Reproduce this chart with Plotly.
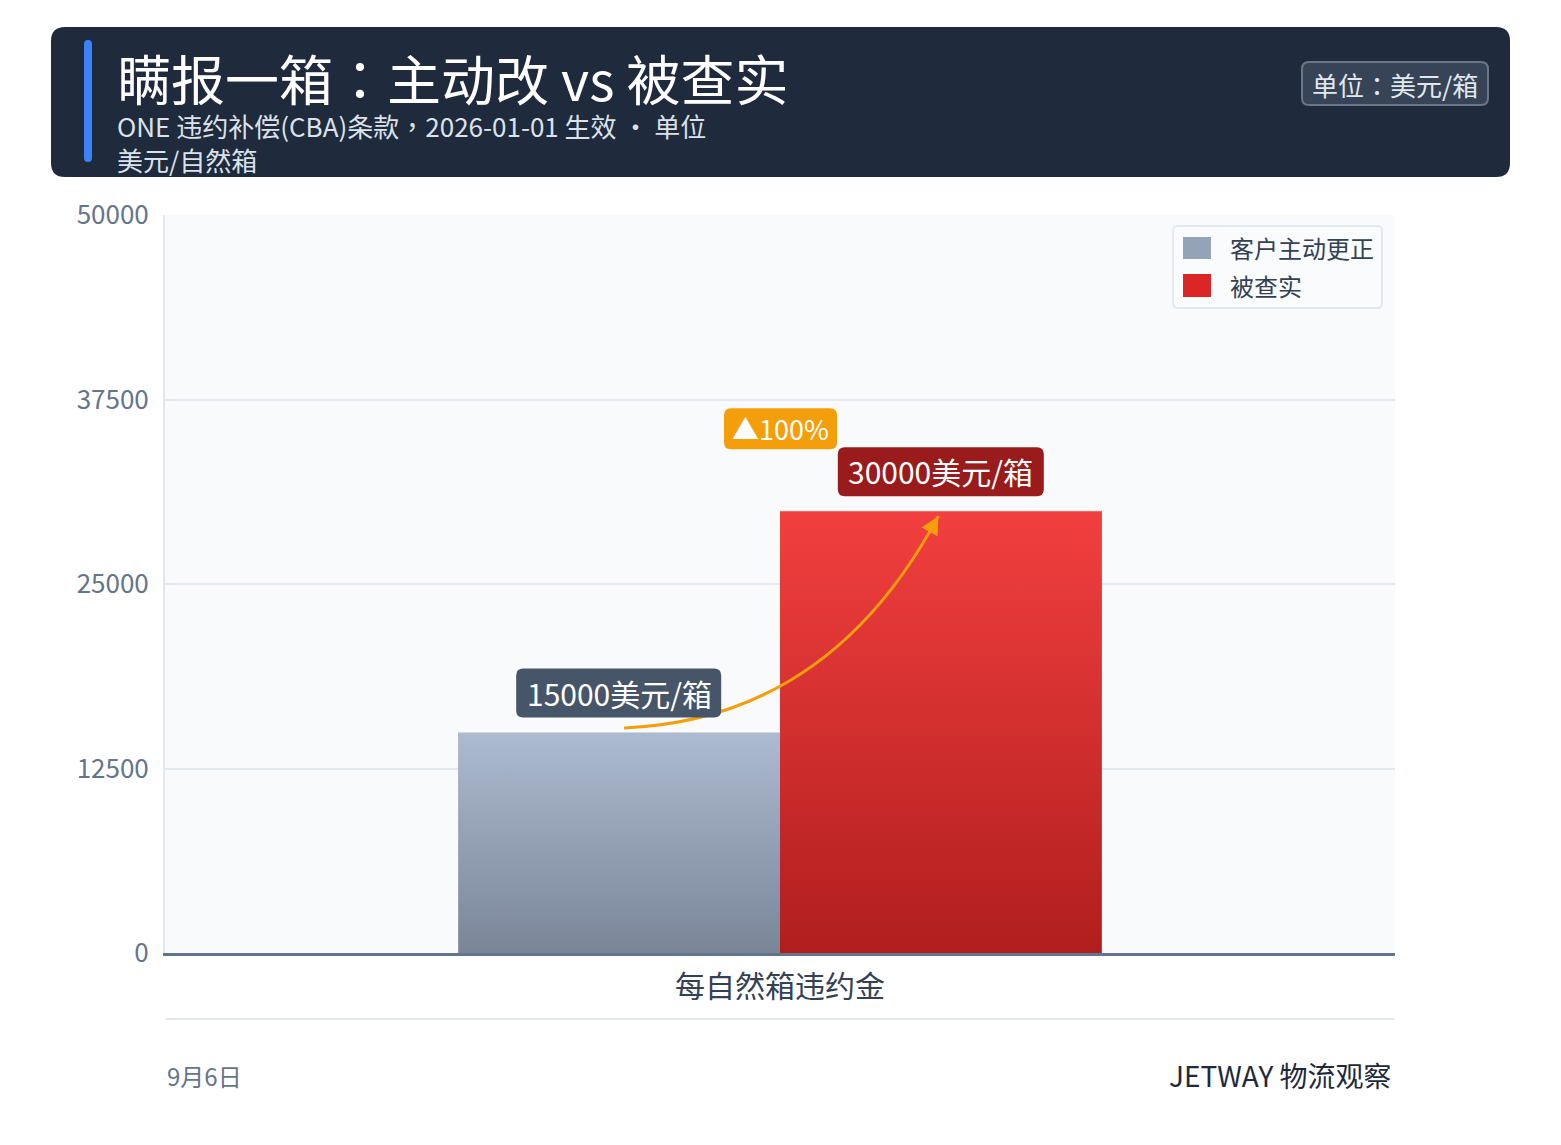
import plotly.graph_objects as go

# ---------------- data ----------------
categories = ["每自然箱违约金"]
series_names = ["客户主动更正", "被查实"]
values_self = [15000]
values_caught = [30000]
value_labels = ["15000美元/箱", "30000美元/箱"]
change_label = "▲100%"
y_ticks = [0, 12500, 25000, 37500, 50000]

title_text = "瞒报一箱：主动改 vs 被查实"
subtitle_text = "ONE 违约补偿(CBA)条款，2026-01-01 生效 · 单位<br>美元/自然箱"
unit_badge = "单位：美元/箱"
footer_left = "9月6日"
footer_right = "JETWAY 物流观察"

# ---------------- style ----------------
W, H = 1561, 1145
OFF = 8                      # page offset of the figure
PL, PR, PT, PB = 165, 1395, 215, 953   # plot box in page pixels
PW, PH = PR - PL, PB - PT
BARGAP = 0.477
FONT = "Noto Sans CJK TC, Noto Sans CJK SC, sans-serif"
legend_colors = ["#94a3b8", "#dc2626"]
grad_colors = [("#7a8598", "#adbbd0"), ("#b11e1e", "#f23f3f")]
label_bg = ["#475569", "#991b1b"]


def px_x(p):
    return (p - PL) / PW


def px_y(q):
    return (PB - q) / PH


def rpath(x0, x1, y0, y1, rx, ry):
    return (f"M {x0 + rx},{y0} L {x1 - rx},{y0} Q {x1},{y0} {x1},{y0 + ry} "
            f"L {x1},{y1 - ry} Q {x1},{y1} {x1 - rx},{y1} "
            f"L {x0 + rx},{y1} Q {x0},{y1} {x0},{y1 - ry} "
            f"L {x0},{y0 + ry} Q {x0},{y0} {x0 + rx},{y0} Z")


def paper_rrect(x0, x1, top, bottom, r, **kw):
    return dict(type="path", xref="paper", yref="paper",
                path=rpath(px_x(x0), px_x(x1), px_y(bottom), px_y(top),
                           r / PW, r / PH), **kw)


fig = go.Figure()
series_vals = [values_self, values_caught]
for name, vals, col in zip(series_names, series_vals, legend_colors):
    fig.add_trace(go.Bar(
        x=categories, y=vals, name=name,
        marker=dict(color=col, line=dict(width=0)),
        hoverinfo="skip", showlegend=False,
    ))

# gradient overlays on a linear twin axis
group_w = 1 - BARGAP
bw = group_w / len(series_vals)
centers = []
for i, (vals, (cb, ct)) in enumerate(zip(series_vals, grad_colors)):
    x0 = -group_w / 2 + i * bw
    v = vals[0]
    centers.append(x0 + bw / 2)
    fig.add_trace(go.Scatter(
        x=[x0, x0 + bw, x0 + bw, x0, x0], y=[0, 0, v, v, 0],
        xaxis="x2", yaxis="y", mode="lines", fill="toself",
        line=dict(width=0, color=ct),
        fillgradient=dict(type="vertical", colorscale=[[0, cb], [1, ct]]),
        showlegend=False, hoverinfo="skip",
    ))
    fig.add_trace(go.Scatter(
        x=[x0, x0 + bw], y=[v, v], xaxis="x2", yaxis="y", mode="lines",
        line=dict(width=2, color="rgba(255,255,255,0.9)"),
        showlegend=False, hoverinfo="skip",
    ))

# curved arrow from first bar to second
v0, v1 = values_self[0], values_caught[0]
sx, sy = centers[0] + 0.004, v0 + 250
ex, ey = centers[1] - 0.002, v1 - 400
cx, cy = 0.04, v0 + 800
shapes = [
    dict(type="path", xref="x2", yref="y",
         path=f"M {sx},{sy} Q {cx},{cy} {ex},{ey}",
         line=dict(color="#f59e0b", width=3)),
]
annotations = [
    dict(x=ex, y=ey, xref="x2", yref="y", text="", showarrow=True,
         ax=-5, ay=9, arrowhead=2, arrowsize=1.2, arrowwidth=3,
         arrowcolor="#f59e0b"),
]

# header / badge / separators
shapes += [
    paper_rrect(51, 1510, 27, 177, 14, fillcolor="#1f2a3c",
                line=dict(width=0), layer="below"),
    paper_rrect(84, 92, 40, 162, 4, fillcolor="#3b82f6", line=dict(width=0)),
    paper_rrect(1302, 1488, 62, 105, 7, fillcolor="#374356",
                line=dict(color="#6b7788", width=2)),
    dict(type="line", xref="paper", yref="paper",
         x0=0, x1=1, y0=px_y(1019), y1=px_y(1019),
         line=dict(color="#e2e8f0", width=2)),
]

# value label boxes (rounded, pixel-sized around data anchors)
box_specs = [
    (centers[0], v0, -103, 102, 14, 63, label_bg[0]),
    (centers[1], v1, -103, 103, 14, 63, label_bg[1]),
    (0, v1, -56, 57, 61, 102, "#f59e0b"),
]
for ax_x, ax_y, bx0, bx1, by0, by1, col in box_specs:
    shapes.append(dict(type="path", xref="x2", yref="y",
                       xsizemode="pixel", ysizemode="pixel",
                       xanchor=ax_x, yanchor=ax_y,
                       path=rpath(bx0, bx1, by0, by1, 7, 7),
                       fillcolor=col, line=dict(width=0)))

annotations += [
    dict(x=px_x(115), y=px_y(77), xref="paper", yref="paper", text=title_text,
         showarrow=False, xanchor="left", yanchor="middle",
         font=dict(family=FONT, size=54, color="white")),
    dict(x=px_x(115), y=px_y(143), xref="paper", yref="paper", text=subtitle_text,
         showarrow=False, xanchor="left", yanchor="middle", align="left",
         font=dict(family=FONT, size=26, color="#dbe2ea")),
    dict(x=px_x(1395), y=px_y(84), xref="paper", yref="paper", text=unit_badge,
         showarrow=False, xanchor="center", yanchor="middle",
         font=dict(family=FONT, size=26, color="#e2e8f0")),
    dict(x=px_x(165), y=px_y(1075), xref="paper", yref="paper", text=footer_left,
         showarrow=False, xanchor="left", yanchor="middle",
         font=dict(family=FONT, size=24, color="#64748b")),
    dict(x=px_x(1394), y=px_y(1075), xref="paper", yref="paper", text=footer_right,
         showarrow=False, xanchor="right", yanchor="middle",
         font=dict(family=FONT, size=28, color="#1e293b")),
]

# value labels text
for c, v, lab in zip(centers, [v0, v1], value_labels):
    annotations.append(dict(
        x=c, y=v, xref="x2", yref="y", text=lab, showarrow=False,
        yanchor="middle", yshift=39,
        font=dict(family=FONT, size=30, color="white")))
annotations.append(dict(
    x=0, y=v1, xref="x2", yref="y", text=change_label, showarrow=False,
    yanchor="middle", yshift=82,
    font=dict(family=FONT, size=27, color="white")))

# manual legend
shapes.append(paper_rrect(1173, 1382, 226, 308, 5, fillcolor="#fafbfc",
                          line=dict(color="#e2e8f0", width=2)))
for name, col, (t, b) in zip(series_names, legend_colors, [(237, 259), (274, 297)]):
    shapes.append(dict(type="rect", xref="paper", yref="paper",
                       x0=px_x(1183), x1=px_x(1211), y0=px_y(b), y1=px_y(t),
                       fillcolor=col, line=dict(width=0)))
    annotations.append(dict(x=px_x(1228), y=px_y((t + b) / 2), xref="paper",
                            yref="paper", text=name, showarrow=False,
                            xanchor="left", yanchor="middle",
                            font=dict(family=FONT, size=24, color="#334155")))

fig.update_layout(
    width=W, height=H,
    margin=dict(l=PL - OFF, r=W - (PR - OFF), t=PT - OFF, b=H - (PB - OFF)),
    paper_bgcolor="white", plot_bgcolor="#f8fafc",
    barmode="group", bargap=BARGAP, bargroupgap=0,
    font=dict(family=FONT),
    xaxis=dict(type="category", range=[-0.5, 0.5], showgrid=False,
               showline=True, linecolor="#64748b", linewidth=3,
               ticks="", ticklabelstandoff=5,
               tickfont=dict(family=FONT, size=30, color="#334155")),
    xaxis2=dict(overlaying="x", range=[-0.5, 0.5], visible=False),
    yaxis=dict(range=[0, 50000], tickvals=y_ticks, tickformat="d",
               showgrid=True, gridcolor="#e2e8f0", gridwidth=1.5,
               zeroline=False, showline=True, linecolor="#e2e8f0", linewidth=2,
               ticks="", ticklabelstandoff=9,
               tickfont=dict(family=FONT, size=26, color="#64748b")),
    shapes=shapes, annotations=annotations,
    showlegend=False,
)

fig.write_html("out.html")
